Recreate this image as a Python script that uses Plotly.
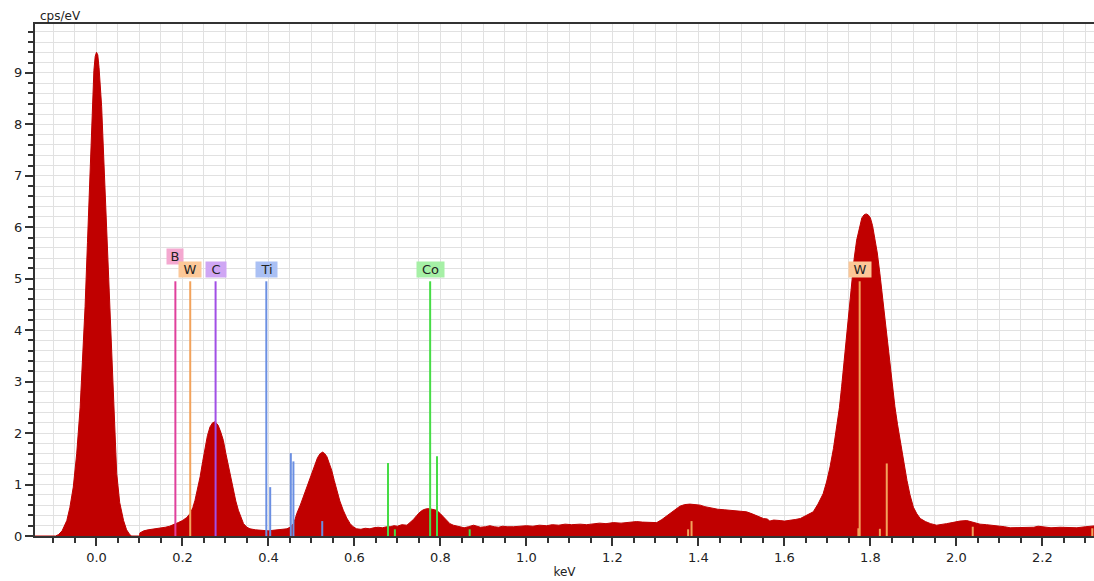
import plotly.graph_objects as go

# EDS spectrum: energy (keV) and intensity (cps/eV)
energy_kev = [
    -0.143, -0.095, -0.088, -0.080, -0.069, -0.062, -0.054, -0.046, -0.038, -0.032,
    -0.0265, -0.021, -0.015, -0.010, -0.006, -0.003, 0.000, 0.003, 0.006, 0.012,
    0.018, 0.024, 0.030, 0.036, 0.041, 0.047, 0.054, 0.063, 0.070, 0.078,
    0.082, 0.100, 0.101, 0.110, 0.120, 0.130, 0.140, 0.150, 0.160, 0.170,
    0.180, 0.190, 0.200, 0.210, 0.218, 0.224, 0.229, 0.235, 0.241, 0.247,
    0.253, 0.258, 0.264, 0.270, 0.276, 0.283, 0.289, 0.295, 0.301, 0.307,
    0.313, 0.318, 0.324, 0.330, 0.336, 0.342, 0.350, 0.357, 0.370, 0.380,
    0.390, 0.400, 0.410, 0.420, 0.430, 0.443, 0.450, 0.458, 0.462, 0.466,
    0.474, 0.481, 0.489, 0.497, 0.503, 0.508, 0.514, 0.520, 0.526, 0.531,
    0.536, 0.541, 0.547, 0.553, 0.559, 0.566, 0.574, 0.582, 0.590, 0.597,
    0.605, 0.615, 0.625, 0.636, 0.645, 0.655, 0.665, 0.675, 0.683, 0.692,
    0.700, 0.710, 0.722, 0.730, 0.737, 0.745, 0.753, 0.760, 0.768, 0.775,
    0.783, 0.791, 0.799, 0.807, 0.815, 0.822, 0.830, 0.838, 0.846, 0.855,
    0.865, 0.877, 0.885, 0.893, 0.905, 0.915, 0.925, 0.935, 0.945, 0.955,
    0.970, 0.985, 1.000, 1.015, 1.030, 1.047, 1.060, 1.075, 1.090, 1.105,
    1.125, 1.140, 1.155, 1.170, 1.185, 1.202, 1.220, 1.240, 1.256, 1.270,
    1.285, 1.303, 1.315, 1.325, 1.334, 1.345, 1.357, 1.368, 1.380, 1.392,
    1.404, 1.415, 1.425, 1.435, 1.445, 1.460, 1.473, 1.485, 1.500, 1.512,
    1.525, 1.538, 1.551, 1.560, 1.566, 1.575, 1.582, 1.590, 1.600, 1.613,
    1.625, 1.637, 1.650, 1.660, 1.667, 1.678, 1.690, 1.698, 1.706, 1.714,
    1.722, 1.728, 1.733, 1.739, 1.745, 1.751, 1.757, 1.762, 1.768, 1.774,
    1.780, 1.785, 1.790, 1.795, 1.800, 1.805, 1.810, 1.816, 1.822, 1.828,
    1.834, 1.840, 1.846, 1.851, 1.857, 1.863, 1.869, 1.877, 1.885, 1.892,
    1.900, 1.908, 1.916, 1.928, 1.940, 1.954, 1.965, 1.977, 1.990, 2.000,
    2.008, 2.024, 2.040, 2.055, 2.070, 2.086, 2.100, 2.112, 2.125, 2.140,
    2.163, 2.180, 2.190, 2.202, 2.220, 2.241, 2.260, 2.280, 2.300, 2.318,
    2.325,
]

intensity_cps = [
    0.00, 0.00, 0.03, 0.10, 0.30, 0.55, 0.95, 1.60, 2.50, 3.40,
    4.46, 5.70, 7.05, 8.20, 9.05, 9.32, 9.40, 9.35, 9.10, 8.35,
    7.10, 5.75, 4.45, 3.16, 2.15, 1.22, 0.65, 0.30, 0.12, 0.02,
    0.00, 0.00, 0.06, 0.10, 0.12, 0.13, 0.14, 0.15, 0.17, 0.19,
    0.22, 0.26, 0.30, 0.36, 0.44, 0.55, 0.69, 0.90, 1.15, 1.45,
    1.73, 1.95, 2.12, 2.20, 2.22, 2.15, 2.02, 1.86, 1.60, 1.34,
    1.10, 0.89, 0.68, 0.50, 0.35, 0.24, 0.17, 0.14, 0.12, 0.11,
    0.11, 0.10, 0.11, 0.12, 0.12, 0.14, 0.17, 0.24, 0.33, 0.44,
    0.60, 0.76, 0.95, 1.15, 1.30, 1.41, 1.52, 1.60, 1.63, 1.60,
    1.54, 1.42, 1.28, 1.08, 0.89, 0.68, 0.50, 0.35, 0.24, 0.18,
    0.14, 0.13, 0.15, 0.14, 0.16, 0.17, 0.16, 0.18, 0.18, 0.20,
    0.19, 0.22, 0.21, 0.26, 0.32, 0.40, 0.47, 0.51, 0.53, 0.53,
    0.52, 0.50, 0.44, 0.37, 0.30, 0.24, 0.21, 0.19, 0.18, 0.16,
    0.18, 0.21, 0.19, 0.17, 0.18, 0.20, 0.18, 0.17, 0.19, 0.18,
    0.18, 0.19, 0.20, 0.19, 0.21, 0.20, 0.22, 0.21, 0.23, 0.22,
    0.23, 0.22, 0.24, 0.25, 0.24, 0.26, 0.25, 0.27, 0.28, 0.27,
    0.26, 0.26, 0.32, 0.38, 0.44, 0.51, 0.58, 0.61, 0.62, 0.61,
    0.60, 0.57, 0.55, 0.53, 0.52, 0.51, 0.50, 0.49, 0.48, 0.47,
    0.43, 0.38, 0.34, 0.33, 0.29, 0.31, 0.30, 0.30, 0.29, 0.30,
    0.32, 0.34, 0.40, 0.44, 0.47, 0.62, 0.82, 1.05, 1.34, 1.70,
    2.12, 2.50, 2.90, 3.40, 3.94, 4.48, 4.97, 5.38, 5.75, 6.00,
    6.18, 6.24, 6.26, 6.24, 6.18, 6.03, 5.82, 5.50, 5.10, 4.65,
    4.20, 3.74, 3.29, 2.90, 2.51, 2.17, 1.86, 1.45, 1.08, 0.80,
    0.56, 0.43, 0.34, 0.28, 0.24, 0.21, 0.22, 0.24, 0.26, 0.28,
    0.29, 0.30, 0.27, 0.23, 0.22, 0.21, 0.20, 0.18, 0.16, 0.16,
    0.17, 0.17, 0.19, 0.18, 0.16, 0.17, 0.17, 0.16, 0.18, 0.20,
    0.20,
]

# Element line markers: energies (keV) and marker heights (cps/eV)
element_names = ["B", "W", "C", "Ti", "Co"]
element_colors = ["#e0409c", "#f2a35c", "#a14fe6", "#6b8fe2", "#46dc46"]
label_colors = ["#f4a8d0", "#fcc898", "#cfa6f4", "#aac0f4", "#a6f0a6"]
line_energies = {
    "B": [0.1835],
    "W": [0.218, 1.376, 1.384, 1.772, 1.775, 1.822, 1.838, 2.038, 2.316],
    "C": [0.277],
    "Ti": [0.395, 0.404, 0.452, 0.458, 0.525],
    "Co": [0.678, 0.694, 0.776, 0.792, 0.868],
}
line_heights = {
    "B": [4.95],
    "W": [4.95, 0.13, 0.29, 0.15, 4.95, 0.14, 1.41, 0.18, 0.15],
    "C": [4.95],
    "Ti": [4.95, 0.95, 1.61, 1.45, 0.29],
    "Co": [1.42, 0.13, 4.95, 1.55, 0.13],
}
# Label tags: (element, energy of tagged line, tag height)
label_tags = [
    ("B", 0.1835, 5.44),
    ("W", 0.218, 5.17),
    ("C", 0.277, 5.17),
    ("Ti", 0.395, 5.17),
    ("Co", 0.776, 5.17),
    ("W", 1.775, 5.17),
]

fig = go.Figure()

fig.add_trace(go.Scatter(
    x=energy_kev, y=intensity_cps, mode="lines",
    fill="tozeroy", fillcolor="#c00000",
    line=dict(color="#c00000", width=1),
    hoverinfo="skip", showlegend=False,
))

for name, color in zip(element_names, element_colors):
    xs, ys = [], []
    for e, h in zip(line_energies[name], line_heights[name]):
        xs += [e, e, None]
        ys += [0, h, None]
    fig.add_trace(go.Scatter(
        x=xs, y=ys, mode="lines",
        line=dict(color=color, width=2),
        hoverinfo="skip", showlegend=False,
    ))

# tag box widths in px
tag_width = {"B": 14, "W": 20, "C": 18, "Ti": 19, "Co": 25}
color_of = dict(zip(element_names, label_colors))
for name, e, h in label_tags:
    fig.add_annotation(
        x=e, y=h, text=name, showarrow=False,
        xanchor="center", yanchor="middle",
        width=tag_width[name], height=13,
        bgcolor=color_of[name], borderpad=1,
        font=dict(family="DejaVu Sans", size=13, color="#222222"),
    )

fig.add_annotation(
    x=0, y=1, xref="paper", yref="paper", xshift=3, yshift=-1,
    text="cps/eV", showarrow=False, xanchor="left", yanchor="bottom",
    font=dict(family="DejaVu Sans", size=12, color="#222222"),
)

grid = "#e1e1e1"
fig.update_layout(
    width=1094, height=581,
    margin=dict(l=35, r=0, t=24, b=45),
    paper_bgcolor="white", plot_bgcolor="white",
    font=dict(family="DejaVu Sans", size=13, color="#222222"),
    xaxis=dict(
        range=[-0.143, 2.32], dtick=0.2, tick0=0, tickformat=".1f",
        ticks="outside", ticklen=8, tickwidth=1.5, tickcolor="#333333",
        showgrid=True, gridcolor=grid, gridwidth=1,
        minor=dict(dtick=0.05, tick0=0, ticks="outside", ticklen=5,
                   tickcolor="#333333", showgrid=True, gridcolor=grid),
        showline=True, linecolor="#333333", linewidth=2, mirror=True,
        zeroline=False, tickfont=dict(size=13),
        title=dict(text="keV", standoff=4, font=dict(size=12)),
    ),
    yaxis=dict(
        range=[0, 9.95], dtick=1, tick0=0,
        ticks="outside", ticklen=8, tickwidth=1.5, tickcolor="#333333",
        showgrid=True, gridcolor=grid, gridwidth=1,
        minor=dict(dtick=0.2, tick0=0, ticks="outside", ticklen=5,
                   tickcolor="#333333", showgrid=True, gridcolor=grid),
        showline=True, linecolor="#333333", linewidth=2,
        zeroline=False, tickfont=dict(size=13),
    ),
)

fig.write_html("out.html")
